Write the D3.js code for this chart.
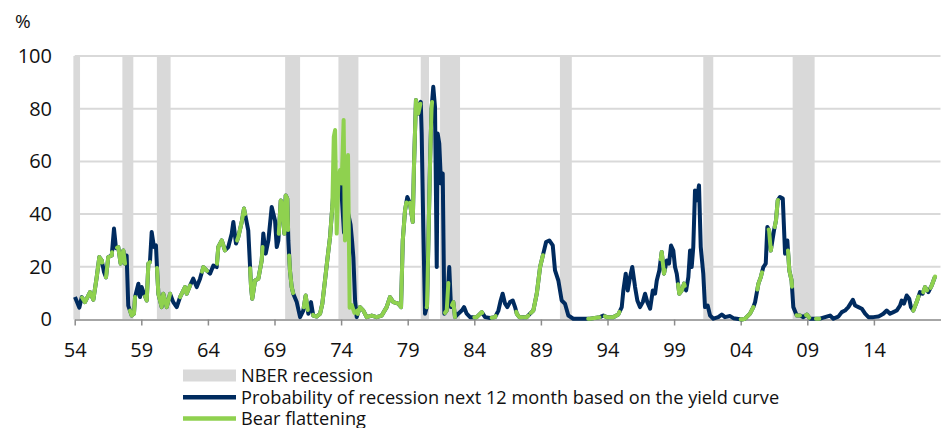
<!DOCTYPE html>
<html><head><meta charset="utf-8">
<script src="https://cdn.jsdelivr.net/npm/d3@7/dist/d3.min.js"></script>
<style>
body{margin:0;background:#fff;}
text{font-family:"Open Sans",sans-serif;fill:#111;}
</style>
</head><body>
<svg id="c" width="944" height="428"></svg>
<script>
// ---- data ----
const yTicks = [0, 20, 40, 60, 80, 100];
const xTickYears = [1954, 1959, 1964, 1969, 1974, 1979, 1984, 1989, 1994, 1999, 2004, 2009, 2014];
const xTickLabels = ["54", "59", "64", "69", "74", "79", "84", "89", "94", "99", "04", "09", "14"];
const legendLabels = ["NBER recession", "Probability of recession next 12 month based on the yield curve", "Bear flattening"];

// NBER recessions [start, end] in decimal years
const recessions = [[1953.9,1954.4],[1957.58,1958.4],[1960.17,1961.2],[1969.8,1970.92],[1973.8,1975.3],
  [1979.98,1980.6],[1981.43,1982.93],[1990.43,1991.32],[2001.19,2001.94],[2007.9,2009.55]];

// Probability of recession next 12 months (%), [decimal year, value]
const probability = [
[1954.02,8.5],[1954.35,4.5],[1954.53,8.5],[1954.77,6.6],[1955.15,10.4],[1955.40,7.5],[1955.65,16],[1955.85,23.7],
[1956.03,22.4],[1956.2,18],[1956.35,16],[1956.52,23.7],[1956.78,24.3],[1956.95,34.5],[1957.10,27],[1957.27,27.5],
[1957.45,21.2],[1957.65,26.2],[1957.78,21.2],[1957.90,24.3],[1958.02,5.3],[1958.28,1.5],[1958.45,2.2],[1958.53,8.5],
[1958.78,13.6],[1958.90,8.5],[1959.03,12.3],[1959.20,9.8],[1959.41,7.2],[1959.53,21.2],[1959.65,21.8],[1959.78,33.2],
[1959.95,27.5],[1960.10,28.1],[1960.20,17.4],[1960.28,9.8],[1960.53,4.7],[1960.65,9.8],[1960.91,4.7],[1961.16,9.8],
[1961.40,6.6],[1961.66,4.7],[1961.91,8.5],[1962.28,12.3],[1962.41,9.8],[1962.66,12.9],[1962.90,15.5],[1963.16,12.3],
[1963.41,15.5],[1963.66,19.9],[1963.91,18.6],[1964.16,17.4],[1964.41,20.5],[1964.66,19.9],[1964.78,27.5],[1965.04,30],
[1965.28,26.2],[1965.53,27.5],[1965.79,32.6],[1965.91,37],[1966.11,28.8],[1966.28,31.3],[1966.54,37],[1966.71,42.1],
[1966.79,40],[1967.03,33.8],[1967.24,12.3],[1967.33,7.9],[1967.54,14.8],[1967.79,15.5],[1968.04,22.4],[1968.16,32.6],
[1968.34,25],[1968.54,30],[1968.79,42.7],[1969.04,37.6],[1969.17,27.5],[1969.29,30],[1969.47,45.2],[1969.59,44],
[1969.74,32.6],[1969.84,47.1],[1969.96,45.9],[1970.04,30],[1970.16,18.6],[1970.29,12.3],[1970.41,9.8],[1970.67,6.6],
[1970.92,0.9],[1971.16,3.4],[1971.34,9.1],[1971.54,2.2],[1971.74,6.6],[1971.91,1.5],[1972.17,1.1],[1972.42,2.2],
[1972.59,6],[1972.79,14.8],[1972.99,23.7],[1973.17,31.3],[1973.34,42.7],[1973.45,50],[1973.72,52.2],[1973.92,55],
[1974.07,45],[1974.22,33],[1974.37,45],[1974.54,40],[1974.71,36],[1974.82,30],[1974.92,23.7],[1975.05,7.2],
[1975.17,0.9],[1975.42,4.7],[1975.67,3.4],[1975.92,0.9],[1976.30,1.5],[1976.67,0.9],[1977.05,1.5],[1977.42,4.7],
[1977.67,8.5],[1977.92,6.6],[1978.30,6],[1978.50,4.7],[1978.63,30],[1978.80,41.4],[1978.97,46.5],[1979.17,44],
[1979.38,37],[1979.47,57.9],[1979.62,83.3],[1979.80,78.2],[1979.98,82.6],[1980.05,70.6],[1980.17,35.1],[1980.30,2.2],
[1980.45,5],[1980.68,60],[1980.79,80],[1980.92,88.3],[1981.05,80.7],[1981.18,19.9],[1981.25,70.6],[1981.37,66.8],
[1981.50,51.6],[1981.63,55.4],[1981.75,2.2],[1981.93,3.4],[1982.12,19.9],[1982.25,4.7],[1982.43,6.6],[1982.55,0.9],
[1982.80,2.2],[1983.06,3.4],[1983.23,4.7],[1983.43,2.2],[1983.68,0.9],[1984.18,0.9],[1984.56,2.8],[1984.81,0.9],
[1985.18,0.6],[1985.56,0.9],[1985.81,3.4],[1985.98,7.2],[1986.13,9.8],[1986.31,6],[1986.48,4.7],[1986.68,6.6],
[1986.89,7.2],[1987.06,4.7],[1987.19,2.2],[1987.38,0.9],[1987.94,0.9],[1988.19,2.2],[1988.43,3.4],[1988.69,9.8],
[1988.94,19.9],[1989.18,25],[1989.39,29.4],[1989.63,30],[1989.89,28.1],[1990.06,18.6],[1990.31,14.8],[1990.56,7.2],
[1990.81,6],[1991.06,1.5],[1991.43,0.3],[1991.93,0.3],[1992.68,0.3],[1993.43,0.9],[1993.69,1.5],[1993.94,0.9],
[1994.44,0.9],[1994.81,1.9],[1995.07,4.7],[1995.19,11],[1995.37,17.4],[1995.52,11],[1995.69,16.1],[1995.86,19.9],
[1996.07,12.3],[1996.24,7.2],[1996.44,4.7],[1996.65,6.6],[1996.82,9.8],[1996.99,6.6],[1997.20,4.1],[1997.40,11],
[1997.57,9.8],[1997.70,14.8],[1997.89,18.6],[1998.07,25.6],[1998.24,17.4],[1998.45,22.4],[1998.62,21.2],[1998.77,28.1],
[1998.94,26.2],[1999.07,19.9],[1999.20,17.4],[1999.39,9.8],[1999.57,11],[1999.75,13.6],[1999.90,11],[2000.07,16.1],
[2000.20,26.2],[2000.32,19.9],[2000.44,27.5],[2000.57,49],[2000.70,45.2],[2000.87,50.9],[2001.00,27.5],[2001.19,17.4],
[2001.32,4.7],[2001.52,5.3],[2001.70,1.5],[2001.95,0.3],[2002.32,0.9],[2002.58,1.9],[2002.82,0.9],[2003.20,1.3],
[2003.45,0.5],[2004.08,0],[2004.33,0.3],[2004.70,2.2],[2004.95,4.7],[2005.08,6.6],[2005.33,13.6],[2005.51,16.1],
[2005.70,19.9],[2005.88,21.2],[2006.00,35.1],[2006.13,33.8],[2006.26,26.2],[2006.50,33.8],[2006.65,37.6],[2006.78,45.2],
[2006.95,46.5],[2007.16,45.9],[2007.33,25],[2007.50,30],[2007.65,18.6],[2007.82,14.8],[2007.95,4.7],[2008.21,1.5],
[2008.46,1.5],[2008.70,0.9],[2008.96,1.9],[2009.21,0.3],[2009.96,0.3],[2010.33,0.9],[2010.71,1.5],[2010.96,0.3],
[2011.33,1.1],[2011.59,2.8],[2011.83,3.4],[2012.08,4.7],[2012.42,7.5],[2012.59,5.3],[2012.84,4.7],[2013.09,4.1],
[2013.34,2.2],[2013.59,0.9],[2013.96,0.9],[2014.34,1.1],[2014.71,2.2],[2014.96,3.4],[2015.21,2.2],[2015.46,2.8],
[2015.71,3.4],[2015.96,5.3],[2016.09,7.2],[2016.26,6],[2016.46,9.1],[2016.65,7.9],[2016.78,4.7],[2016.96,3.4],
[2017.21,6.6],[2017.46,10.4],[2017.66,9.8],[2017.84,12.3],[2018.09,10.4],[2018.34,12.9],[2018.59,16.3]
];

// Bear flattening periods [start, end] where the green series follows the probability
const bearPeriods = [[1954.55,1956.06],[1956.35,1956.8],[1957.18,1957.78],[1958.15,1958.53],[1959.28,1959.65],
  [1960.18,1961.16],[1961.91,1962.66],[1963.56,1963.94],[1964.68,1965.28],[1966.19,1966.79],[1967.17,1968.1],
  [1969.32,1970.02],[1970.1,1970.4],[1971.2,1971.5],[1971.9,1973.34],[1975.25,1978.9],[1979.15,1979.95],
  [1980.43,1980.83],[1981.8,1982.05],[1982.32,1982.55],[1984.0,1984.6],[1985.3,1985.6],[1987.15,1987.6],
  [1987.75,1988.05],[1988.25,1989.15],[1992.55,1993.4],[1993.8,1994.9],[1998.0,1998.3],[1999.3,1999.8],
  [2004.0,2004.95],[2005.25,2005.6],[2006.1,2006.3],[2006.55,2006.8],[2007.55,2007.85],[2008.2,2008.45],
  [2008.9,2009.15],[2009.65,2009.9],[2016.95,2017.35],[2017.7,2018.0],[2018.25,2018.6]];

// Bear flattening values that differ from the line (1973-75)
const bearOwn = [[1973.34,42.7],[1973.45,69.3],[1973.55,71.9],[1973.67,32.6],[1973.80,52.9],[1973.92,56.7],
  [1974.04,51.6],[1974.19,75.7],[1974.29,30],[1974.52,62.4],[1974.64,4.5],[1974.8,5.5],[1975.0,2.5],[1975.25,3.5]];

// ---- chart ----
const svg = d3.select("#c");
const x = d3.scaleLinear().domain([1954, 2019]).range([74.7, 940.5]);
const y = d3.scaleLinear().domain([0, 100]).range([319.5, 56]);
const navy = "#002b5f", green = "#8fd14f", grey = "#d9d9d9";

// recession bars
svg.append("g").selectAll("rect").data(recessions).join("rect")
  .attr("x", d => x(d[0])).attr("width", d => x(d[1]) - x(d[0]))
  .attr("y", y(100)).attr("height", y(0) - y(100)).attr("fill", grey);

// gridlines
svg.append("g").selectAll("line").data(yTicks.filter(v => v > 0)).join("line")
  .attr("x1", x.range()[0]).attr("x2", x.range()[1])
  .attr("y1", d => y(d)).attr("y2", d => y(d))
  .attr("stroke", grey).attr("stroke-width", 2);

// y axis labels
const ya = svg.append("g").attr("transform", "translate(55,0)")
  .call(d3.axisLeft(y).tickValues(yTicks).tickSize(0).tickPadding(3));
ya.select(".domain").remove();
ya.selectAll("text").style("font-family", '"Open Sans",sans-serif').style("font-size", "20px").attr("fill", "#111");

// x axis
const xa = svg.append("g").attr("transform", `translate(0,${y(0)})`)
  .call(d3.axisBottom(x).tickValues(xTickYears).tickFormat((d, i) => xTickLabels[i]).tickSize(6).tickSizeOuter(0).tickPadding(17));
xa.select(".domain").attr("stroke", "#a6a6a6").attr("stroke-width", 2);
xa.selectAll(".tick line").attr("stroke", "#8c8c8c").attr("stroke-width", 1.5);
xa.selectAll("text").style("font-family", '"Open Sans",sans-serif').style("font-size", "20px").attr("fill", "#111");

// % label
svg.append("text").attr("x", 15).attr("y", 28).style("font-size", "19px").text("%");

// lines
const line = d3.line().x(d => x(d[0])).y(d => y(d[1]));
svg.append("path").datum(probability).attr("d", line)
  .attr("fill", "none").attr("stroke", navy).attr("stroke-width", 4).attr("stroke-linejoin", "round");

const bis = d3.bisector(d => d[0]).left;
function valueAt(t) {
  const i = bis(probability, t);
  if (i <= 0) return probability[0][1];
  if (i >= probability.length) return probability[probability.length - 1][1];
  const a = probability[i - 1], b = probability[i];
  return a[1] + (b[1] - a[1]) * (t - a[0]) / (b[0] - a[0]);
}
const greenSegs = bearPeriods.map(([s, e]) => [[s, valueAt(s)], ...probability.filter(p => p[0] > s && p[0] < e), [e, valueAt(e)]]);
greenSegs.push(bearOwn);
svg.append("g").selectAll("path").data(greenSegs).join("path").attr("d", line)
  .attr("fill", "none").attr("stroke", green).attr("stroke-width", 4)
  .attr("stroke-linejoin", "round").attr("stroke-linecap", "round");

// legend
const lg = svg.append("g");
const rowsY = [375.5, 397.3, 418.5];
lg.append("rect").attr("x", 183).attr("y", rowsY[0] - 6).attr("width", 53).attr("height", 12).attr("fill", grey);
lg.append("line").attr("x1", 183).attr("x2", 236).attr("y1", rowsY[1]).attr("y2", rowsY[1]).attr("stroke", navy).attr("stroke-width", 4.5);
lg.append("line").attr("x1", 183).attr("x2", 236).attr("y1", rowsY[2]).attr("y2", rowsY[2]).attr("stroke", green).attr("stroke-width", 4.5);
lg.selectAll("text").data(legendLabels).join("text")
  .attr("x", 241).attr("y", (d, i) => rowsY[i] + 6.2)
  .style("font-size", "18.2px").text(d => d);
</script>
</body></html>
